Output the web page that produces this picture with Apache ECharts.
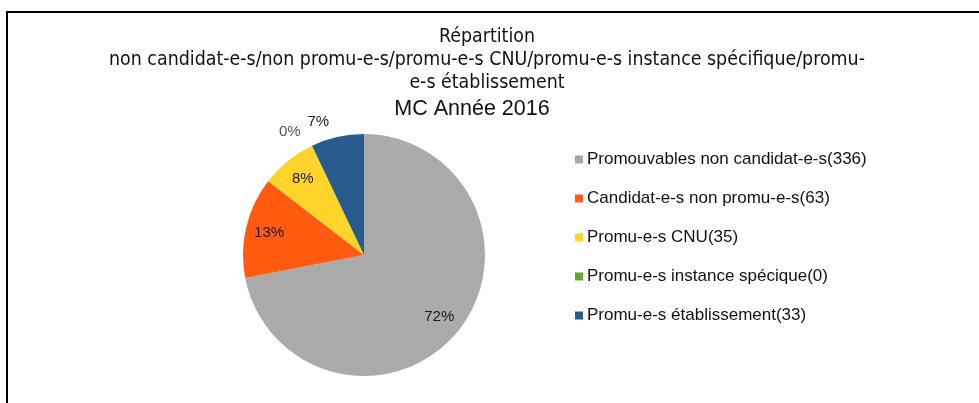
<!DOCTYPE html>
<html>
<head>
<meta charset="utf-8">
<script src="https://cdn.jsdelivr.net/npm/echarts@6/dist/echarts.min.js"></script>
<style>
  html, body { margin: 0; padding: 0; background: #fff; }
  #main { position: absolute; left: 0; top: 0; width: 979px; height: 403px; }
  .frame {
    position: absolute; left: 6px; top: 11px; width: 973px; height: 392px;
    border-top: 2px solid #000; border-left: 2px solid #000; pointer-events: none;
  }
</style>
</head>
<body>
<div id="main"></div>
<div class="frame"></div>
<script>
// catégories et effectifs
const categories = [
  'Promouvables non candidat-e-s',
  'Candidat-e-s non promu-e-s',
  'Promu-e-s CNU',
  'Promu-e-s instance spécique',
  'Promu-e-s établissement'
]
const values = [336, 63, 35, 0, 33]
const colors = ['#aaaaaa', '#fe5a10', '#ffd42a', '#62a82f', '#265b8c']
// les petites parts ont leur étiquette à l'extérieur
const outsideLabel = [false, false, false, true, true]

const chart = echarts.init(document.getElementById('main'))

const pieData = categories.map((name, i) => {
  return { name: name, value: values[i], itemStyle: { color: colors[i] } }
})

const option = {
  animation: false,
  title: [
    {
      text: 'Répartition\nnon candidat-e-s/non promu-e-s/promu-e-s CNU/promu-e-s instance spécifique/promu-\ne-s établissement',
      left: 482,
      top: 20,
      textAlign: 'center',
      textStyle: {
        fontFamily: 'Liberation Sans Narrow, DejaVu Sans Condensed, sans-serif',
        fontSize: 19.4,
        fontWeight: 'normal',
        color: '#111',
        lineHeight: 23
      }
    },
    {
      text: 'MC Année 2016',
      left: 467,
      top: 93,
      textAlign: 'center',
      textStyle: {
        fontFamily: 'Liberation Sans, Arial, sans-serif',
        fontSize: 21.5,
        fontWeight: 'normal',
        color: '#111'
      }
    }
  ],
  legend: {
    orient: 'vertical',
    left: 570,
    top: 146,
    itemWidth: 8,
    itemHeight: 8,
    itemGap: 22,
    icon: 'rect',
    data: categories,
    formatter: (name) => name + '(' + values[categories.indexOf(name)] + ')',
    textStyle: {
      fontFamily: 'Liberation Sans, Arial, sans-serif',
      fontSize: 17,
      color: '#111',
      padding: [0, 0, 0, -1]
    }
  },
  series: [
    {
      // les parts du camembert
      type: 'pie',
      center: [364, 255],
      radius: 121,
      clockwise: true,
      startAngle: 90,
      percentPrecision: 0,
      avoidLabelOverlap: false,
      data: pieData.map((d, i) => {
        return Object.assign({}, d, {
          label: { show: outsideLabel[i], color: values[i] === 0 ? '#555' : '#1a1a1a' }
        })
      }),
      label: {
        position: 'outside',
        formatter: '{d}%',
        fontFamily: 'Liberation Sans, Arial, sans-serif',
        fontSize: 15,
        color: '#1a1a1a'
      },
      labelLine: { show: false, length: 15, length2: 0 },
      emphasis: { disabled: true }
    },
    {
      // anneau invisible : sert juste à placer les étiquettes intérieures
      type: 'pie',
      center: [364, 255],
      radius: [68, 121],
      clockwise: true,
      startAngle: 90,
      percentPrecision: 0,
      silent: true,
      itemStyle: { color: 'rgba(0,0,0,0)' },
      data: pieData.map((d, i) => {
        return {
          name: d.name,
          value: d.value,
          itemStyle: { color: 'rgba(0,0,0,0)' },
          label: { show: !outsideLabel[i] }
        }
      }),
      label: {
        position: 'inside',
        formatter: '{d}%',
        fontFamily: 'Liberation Sans, Arial, sans-serif',
        fontSize: 15,
        color: '#1a1a1a'
      },
      labelLine: { show: false },
      emphasis: { disabled: true }
    }
  ]
}

chart.setOption(option)
</script>
</body>
</html>
